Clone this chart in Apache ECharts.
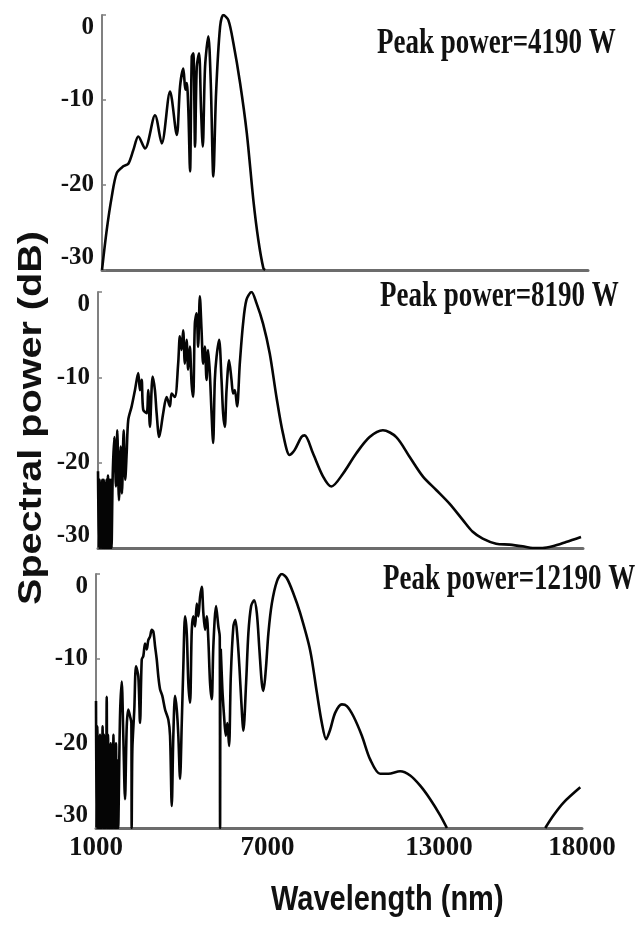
<!DOCTYPE html>
<html>
<head>
<meta charset="utf-8">
<script src="https://cdn.jsdelivr.net/npm/echarts@6/dist/echarts.min.js"></script>
<style>html,body{margin:0;padding:0;background:#fff}#c{width:640px;height:932px}</style>
</head>
<body>
<div id="c"></div>
<script>
const wavelengthTicks = [1000, 7000, 13000, 18000];
const dbTicks = [-30, -20, -10, 0];
const panelLabels = ['Peak power=4190 W', 'Peak power=8190 W', 'Peak power=12190 W'];
const xTitle = 'Wavelength (nm)';
const yTitle = 'Spectral power (dB)';

// [wavelength nm, spectral power dB]
const spectrum4190 = [
  [1000,-30],[1165,-25.3],[1340,-21.4],[1515,-18.6],[1745,-17.8],[1920,-17.5],[2095,-15.9],[2270,-14.3],
  [2505,-15.7],[2855,-11.8],[3090,-15.1],[3380,-9.0],[3615,-14.1],[3730,-8.4],[3845,-6.3],[3915,-8.8],
  [3965,-8.0],[4020,-11.2],[4080,-18.4],[4140,-4.9],[4195,-4.5],[4255,-15.5],[4315,-6.1],[4395,-4.5],
  [4465,-11.2],[4525,-15.5],[4605,-6.1],[4720,-2.5],[4805,-8.0],[4895,-19.0],[4990,-9.2],[5130,-1.4],
  [5245,0],[5420,-0.6],[5595,-3.3],[5830,-8.0],[6065,-13.9],[6295,-21.8],[6470,-26.5],[6645,-29.8],[6705,-30]
];

const spectrum8190 = [
  [1000,-21],[1030,-30],[1055,-22],[1080,-30],[1105,-23],[1130,-30],[1150,-22],[1175,-30],[1200,-22],
  [1225,-30],[1250,-22.5],[1275,-30],[1300,-22],[1325,-30],[1350,-21.5],[1375,-30],[1400,-22],[1425,-30],
  [1450,-22],[1475,-30],
  [1515,-21.6],[1570,-17.0],[1630,-22.8],[1675,-16.2],[1735,-24.4],[1795,-18.1],[1840,-23.6],[1900,-16.2],
  [1955,-22.0],[2005,-18.9],[2060,-15.0],[2180,-13.4],[2295,-11.5],[2410,-9.5],[2470,-11.5],[2530,-10.3],
  [2585,-13.8],[2705,-14.2],[2760,-11.5],[2820,-15.8],[2915,-9.9],[2995,-11.5],[3055,-14.2],[3145,-17.0],
  [3285,-14.2],[3405,-12.3],[3520,-13.4],[3580,-11.9],[3695,-12.3],[3810,-8.4],[3870,-5.2],[3930,-6.8],
  [3985,-4.5],[4045,-8.4],[4105,-5.6],[4160,-9.1],[4220,-6.4],[4280,-10.7],[4335,-12.3],[4395,-3.7],
  [4455,-2.5],[4510,-6.4],[4570,-0.5],[4630,-4.5],[4685,-8.4],[4745,-6.4],[4805,-10.3],[4860,-6.8],
  [4920,-9.5],[4980,-14.2],[5035,-17.7],[5095,-10.3],[5155,-7.6],[5245,-5.6],[5330,-10.3],[5385,-14.2],
  [5445,-15.8],[5505,-11.5],[5595,-8.0],[5680,-10.3],[5735,-11.9],[5795,-11.5],[5875,-13.4],[5970,-8.4],
  [6085,-3.7],[6205,-0.9],[6380,0],[6555,-1.3],[6785,-3.7],[7020,-7.2],[7255,-12.3],[7485,-16.6],
  [7720,-19.1],[7895,-18.5],[8130,-17.0],[8245,-16.8],[8535,-18.9],[8885,-21.6],[9180,-22.8],[9585,-21.3],
  [10055,-18.9],[10520,-17.0],[10985,-16.2],[11455,-17.0],[11920,-19.3],[12385,-21.6],[12855,-23.2],
  [13320,-24.8],[13785,-26.7],[14135,-28.1],[14485,-28.9],[14955,-29.5],[15420,-29.6],[15885,-29.8],
  [16235,-30],[16585,-30],[16935,-29.8],[17405,-29.3],[17930,-28.7]
];

const spectrum12190 = [
  [1000,-15],[1020,-30],[1045,-18],[1070,-30],[1090,-20],[1115,-30],[1140,-19],[1160,-30],[1185,-21],
  [1210,-30],[1230,-18],[1255,-30],[1280,-19],[1300,-30],[1325,-20],[1350,-30],[1375,-14.5],[1395,-30],
  [1420,-19],[1445,-30],[1465,-22],[1490,-30],[1515,-20],[1535,-30],[1560,-21],[1585,-30],[1610,-19],
  [1630,-30],[1655,-21],[1680,-30],[1700,-20],[1725,-30],[1750,-22],[1775,-30],
  [1840,-16.8],[1900,-12.7],[1955,-19.1],[2015,-26.6],[2075,-18.0],[2130,-16.0],[2190,-16.8],[2237,-17.6],
  [2248,-30],[2272,-20.7],[2340,-16.0],[2400,-10.9],[2480,-12.1],[2540,-17.6],[2600,-10.1],[2655,-9.7],
  [2715,-8.2],[2775,-8.9],[2830,-7.8],[2890,-7.4],[2950,-6.6],[3005,-6.8],[3065,-8.5],[3125,-10.1],
  [3180,-12.1],[3240,-13.6],[3320,-14.4],[3415,-16.0],[3530,-17.2],[3590,-19.1],[3650,-27.4],[3705,-19.1],
  [3765,-14.4],[3825,-16.0],[3880,-19.1],[3940,-24.2],[4000,-17.6],[4055,-10.9],[4115,-5.0],[4175,-7.0],
  [4230,-12.9],[4290,-15.2],[4350,-6.6],[4405,-5.0],[4465,-6.2],[4525,-3.5],[4580,-5.0],[4640,-2.7],
  [4700,-1.5],[4755,-4.6],[4815,-6.6],[4875,-5.0],[4930,-7.8],[4990,-12.9],[5050,-14.8],[5105,-8.5],
  [5200,-3.8],[5280,-6.2],[5329,-7.4],[5340,-30],[5364,-8.9],[5420,-13.6],[5480,-16.8],[5540,-19.1],
  [5595,-17.6],[5655,-20.3],[5715,-12.1],[5805,-6.2],[5875,-5.4],[5945,-7.4],[6015,-10.9],[6085,-15.2],
  [6155,-18.5],[6250,-12.9],[6330,-7.0],[6425,-3.8],[6530,-3.1],[6625,-4.6],[6715,-8.9],[6800,-12.9],
  [6855,-13.8],[6940,-11.3],[7030,-7.0],[7150,-3.5],[7325,-0.9],[7500,0],[7675,-0.5],[7905,-2.3],
  [8140,-4.6],[8490,-9.0],[8725,-14.0],[8900,-17.6],[9050,-19.5],[9190,-18.4],[9365,-16.4],[9600,-15.4],
  [9775,-15.6],[10005,-16.8],[10300,-19.1],[10590,-21.9],[10940,-23.6],[11230,-23.6],[11640,-23.3],
  [11990,-23.8],[12340,-25.0],[12690,-26.6],[13040,-28.5],[13275,-30],
  [15000,'-'],
  [16715,-30],[17005,-28.5],[17355,-27.0],[17940,-25.2]
];

const spectra = [spectrum4190, spectrum8190, spectrum12190];

const grids = [
  {left: 102, right: 52, top: 15, height: 255},
  {left: 98, right: 57, top: 292, height: 256},
  {left: 96, right: 58, top: 574, height: 254}
];

const serif = '"Liberation Serif", "Times New Roman", serif';
const sans = '"Liberation Sans", Arial, sans-serif';

const option = {
  backgroundColor: '#fff',
  animation: false,
  grid: grids,
  xAxis: grids.map((g, i) => ({
    type: 'value', gridIndex: i, min: 1000, max: 18000,
    axisLine: {show: true, onZero: false, lineStyle: {color: '#6c6c6c', width: 3}},
    axisTick: {show: false},
    splitLine: {show: false},
    axisLabel: i === 2 ? {
      show: true, customValues: wavelengthTicks, margin: 7,
      fontFamily: serif, fontWeight: 'bold', fontSize: 27, color: '#111',
      formatter: v => String(v)
    } : {show: false}
  })),
  yAxis: grids.map((g, i) => ({
    type: 'value', gridIndex: i, min: -30, max: 0, interval: 10,
    axisLine: {show: true, onZero: false, lineStyle: {color: '#808080', width: 2}},
    axisTick: {show: true, inside: true, length: 4, lineStyle: {color: '#808080', width: 1.5}},
    splitLine: {show: false},
    axisLabel: {
      show: true, customValues: dbTicks, margin: 8,
      fontFamily: serif, fontWeight: 'bold', fontSize: 25, color: '#111',
      verticalAlignMaxLabel: 'top', verticalAlignMinLabel: 'bottom',
      formatter: v => String(v)
    }
  })),
  series: spectra.map((d, i) => ({
    type: 'line', xAxisIndex: i, yAxisIndex: i, data: d,
    showSymbol: false, smooth: 0.3, connectNulls: false, clip: true,
    lineStyle: {color: '#050505', width: 2.6}
  })),
  graphic: [
    {type: 'text', x: 377, y: 26, scaleY: 1.3, style: {text: panelLabels[0], font: 'bold 27px ' + serif, fill: '#111', verticalAlign: 'top'}},
    {type: 'text', x: 380, y: 279, scaleY: 1.3, style: {text: panelLabels[1], font: 'bold 27px ' + serif, fill: '#111', verticalAlign: 'top'}},
    {type: 'text', x: 383, y: 562, scaleY: 1.3, style: {text: panelLabels[2], font: 'bold 27px ' + serif, fill: '#111', verticalAlign: 'top'}},
    {type: 'text', x: 271, y: 883, scaleY: 1.2, style: {text: xTitle, font: 'bold 29px ' + sans, fill: '#111', verticalAlign: 'top'}},
    {type: 'text', x: 32, y: 418, rotation: Math.PI / 2, scaleX: 1.2, style: {text: yTitle, font: 'bold 33px ' + sans, fill: '#111', align: 'center', verticalAlign: 'middle'}}
  ]
};

const chart = echarts.init(document.getElementById('c'), null, {renderer: 'canvas'});
chart.setOption(option);
</script>
</body>
</html>
